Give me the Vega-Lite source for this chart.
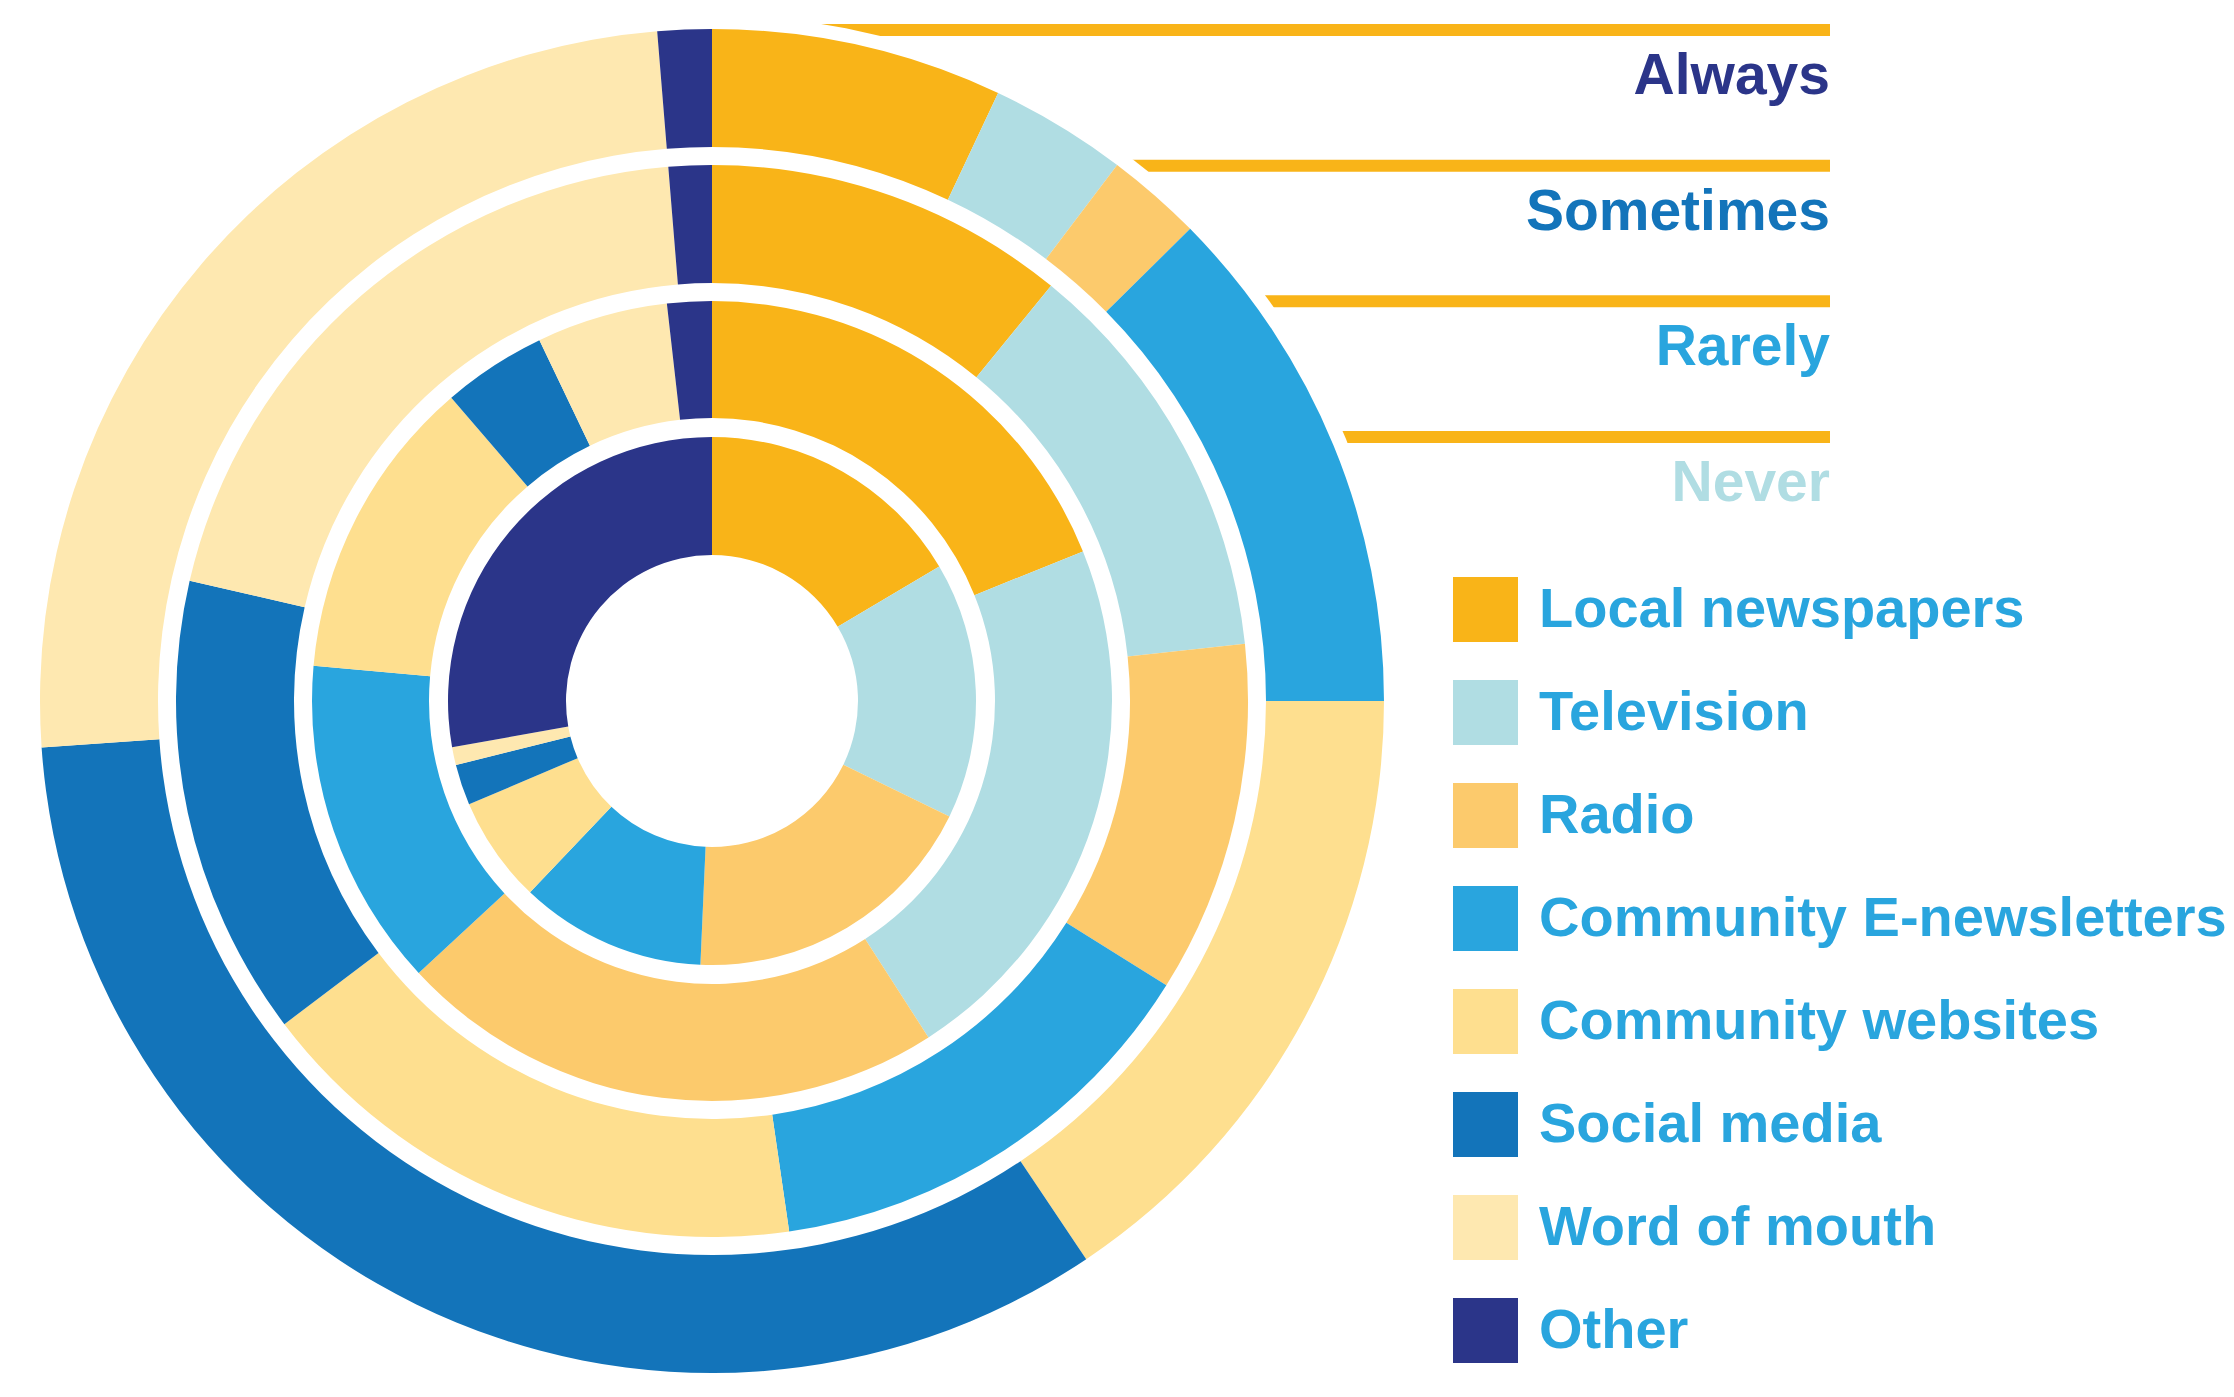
{
  "$schema": "https://vega.github.io/schema/vega-lite/v6.json",
  "width": 1424,
  "height": 1402,
  "padding": 0,
  "autosize": {"type": "pad"},
  "background": "white",
  "config": {"view": {"stroke": null}},
  "datasets": {
    "shares": [
      {"level": "Always", "category": "Local newspapers", "idx": 1, "value": 7.0},
      {"level": "Always", "category": "Television", "idx": 2, "value": 3.3},
      {"level": "Always", "category": "Radio", "idx": 3, "value": 2.3},
      {"level": "Always", "category": "Community E-newsletters", "idx": 4, "value": 12.4},
      {"level": "Always", "category": "Community websites", "idx": 5, "value": 15.6},
      {"level": "Always", "category": "Social media", "idx": 6, "value": 33.3},
      {"level": "Always", "category": "Word of mouth", "idx": 7, "value": 24.8},
      {"level": "Always", "category": "Other", "idx": 8, "value": 1.3},
      {"level": "Sometimes", "category": "Local newspapers", "idx": 1, "value": 10.9},
      {"level": "Sometimes", "category": "Television", "idx": 2, "value": 12.4},
      {"level": "Sometimes", "category": "Radio", "idx": 3, "value": 10.6},
      {"level": "Sometimes", "category": "Community E-newsletters", "idx": 4, "value": 13.8},
      {"level": "Sometimes", "category": "Community websites", "idx": 5, "value": 17.0},
      {"level": "Sometimes", "category": "Social media", "idx": 6, "value": 13.9},
      {"level": "Sometimes", "category": "Word of mouth", "idx": 7, "value": 20.1},
      {"level": "Sometimes", "category": "Other", "idx": 8, "value": 1.3},
      {"level": "Rarely", "category": "Local newspapers", "idx": 1, "value": 18.9},
      {"level": "Rarely", "category": "Television", "idx": 2, "value": 22.0},
      {"level": "Rarely", "category": "Radio", "idx": 3, "value": 22.2},
      {"level": "Rarely", "category": "Community E-newsletters", "idx": 4, "value": 13.3},
      {"level": "Rarely", "category": "Community websites", "idx": 5, "value": 12.3},
      {"level": "Rarely", "category": "Social media", "idx": 6, "value": 4.2},
      {"level": "Rarely", "category": "Word of mouth", "idx": 7, "value": 5.3},
      {"level": "Rarely", "category": "Other", "idx": 8, "value": 1.8},
      {"level": "Never", "category": "Local newspapers", "idx": 1, "value": 16.5},
      {"level": "Never", "category": "Television", "idx": 2, "value": 15.7},
      {"level": "Never", "category": "Radio", "idx": 3, "value": 18.5},
      {"level": "Never", "category": "Community E-newsletters", "idx": 4, "value": 11.4},
      {"level": "Never", "category": "Community websites", "idx": 5, "value": 6.5},
      {"level": "Never", "category": "Social media", "idx": 6, "value": 2.5},
      {"level": "Never", "category": "Word of mouth", "idx": 7, "value": 1.1},
      {"level": "Never", "category": "Other", "idx": 8, "value": 27.8}
    ],
    "levels": [
      {"level": "Always"},
      {"level": "Sometimes"},
      {"level": "Rarely"},
      {"level": "Never"}
    ]
  },
  "data": {"name": "shares"},
  "layer": [
    {
      "data": {"name": "levels"},
      "mark": {"type": "rule", "color": "#F9B418", "strokeWidth": 12, "strokeCap": "butt"},
      "encoding": {
        "y": {"field": "level", "type": "nominal", "scale": {"type": "point", "domain": ["Always", "Sometimes", "Rarely", "Never"], "range": [30, 437], "padding": 0}, "axis": null},
        "x": {"datum": 0, "type": "quantitative", "scale": {"domain": [0, 1], "range": [712, 1830]}, "axis": null},
        "x2": {"datum": 1}
      }
    },
    {
      "data": {"values": [{"k": 1}]},
      "mark": {"type": "arc", "innerRadius": 0, "outerRadius": 686, "theta": 0, "theta2": 6.2832, "fill": "white", "stroke": null},
      "encoding": {}
    },
    {
      "transform": [{"filter": "datum.level === 'Always'"}],
      "mark": {"type": "arc", "innerRadius": 554, "outerRadius": 672},
      "encoding": {
        "theta": {"field": "value", "type": "quantitative", "stack": true, "scale": {"domain": [0, 100]}},
        "order": {"field": "idx", "type": "quantitative"},
        "color": {"field": "category", "type": "nominal",
          "scale": {"domain": ["Local newspapers", "Television", "Radio", "Community E-newsletters", "Community websites", "Social media", "Word of mouth", "Other"],
                    "range": ["#F9B418", "#B0DDE3", "#FCCA6C", "#29A5DE", "#FEDF8F", "#1374BA", "#FEE8B0", "#2B3589"]},
          "legend": {"orient": "none", "legendX": 1453, "legendY": 577, "title": null, "symbolType": "square", "symbolSize": 4225, "symbolStrokeWidth": 0, "symbolOpacity": 1, "labelFont": "Liberation Sans", "labelFontWeight": "bold", "labelFontSize": 56, "labelColor": "#29A5DE", "labelOffset": 21, "rowPadding": 38, "labelLimit": 2000, "padding": 0, "offset": 0}
        }
      }
    },
    {
      "transform": [{"filter": "datum.level === 'Sometimes'"}],
      "mark": {"type": "arc", "innerRadius": 418, "outerRadius": 536},
      "encoding": {
        "theta": {"field": "value", "type": "quantitative", "stack": true},
        "order": {"field": "idx", "type": "quantitative"},
        "color": {"field": "category", "type": "nominal"}
      }
    },
    {
      "transform": [{"filter": "datum.level === 'Rarely'"}],
      "mark": {"type": "arc", "innerRadius": 283, "outerRadius": 400},
      "encoding": {
        "theta": {"field": "value", "type": "quantitative", "stack": true},
        "order": {"field": "idx", "type": "quantitative"},
        "color": {"field": "category", "type": "nominal"}
      }
    },
    {
      "transform": [{"filter": "datum.level === 'Never'"}],
      "mark": {"type": "arc", "innerRadius": 146, "outerRadius": 264},
      "encoding": {
        "theta": {"field": "value", "type": "quantitative", "stack": true},
        "order": {"field": "idx", "type": "quantitative"},
        "color": {"field": "category", "type": "nominal"}
      }
    },
    {
      "data": {"name": "levels"},
      "mark": {"type": "text", "align": "right", "baseline": "alphabetic", "dy": 64, "font": "Liberation Sans", "fontWeight": "bold", "fontSize": 57},
      "encoding": {
        "y": {"field": "level", "type": "nominal", "axis": null},
        "x": {"datum": 1, "type": "quantitative", "axis": null},
        "text": {"field": "level", "type": "nominal"},
        "fill": {"field": "level", "type": "nominal", "legend": null,
          "scale": {"domain": ["Always", "Sometimes", "Rarely", "Never"], "range": ["#2B3589", "#1374BA", "#29A5DE", "#B0DDE3"]}}
      }
    }
  ]
}
